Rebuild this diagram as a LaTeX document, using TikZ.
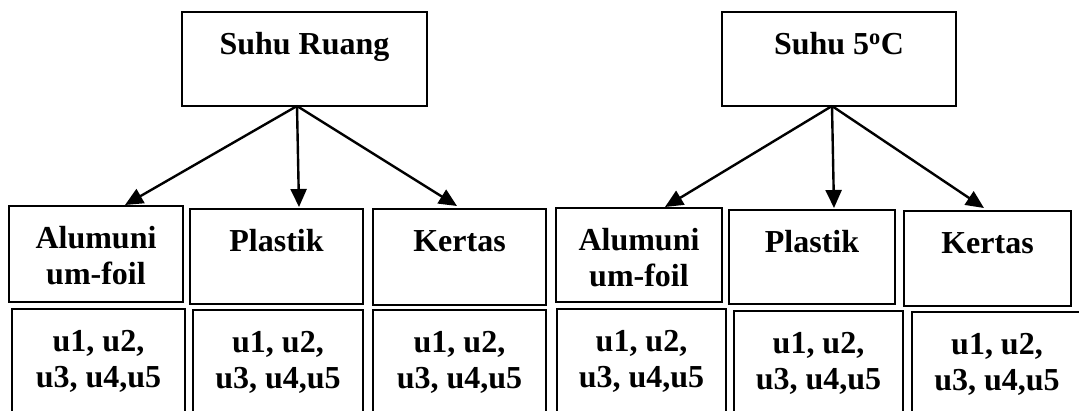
\documentclass[tikz,border=0pt]{standalone}
\usepackage{fontspec}
\setmainfont{Liberation Serif}
\usetikzlibrary{arrows.meta}
\newcommand{\cellbox}[3]{\parbox[t][#2pt][t]{#1pt}{\centering\rule{0pt}{42pt}#3\par}}
\begin{document}
\begin{tikzpicture}[x=1pt,y=-1pt,
  box/.style={draw, line width=2pt, inner sep=0pt, outer sep=0pt, anchor=north west,
    font=\bfseries\fontsize{32}{36.5}\selectfont},
  arr/.style={line width=2.4pt, -{Triangle[length=18pt,width=16pt]}}]
\useasboundingbox (0,0) rectangle (1079,410);
\clip (0,0) rectangle (1079,410);
% top boxes
\node[box] (t1) at (182,12) {\cellbox{245}{94}{Suhu Ruang}};
\node[box] (t2) at (722,12) {\cellbox{234}{94}{Suhu 5\textsuperscript{o}C}};
% material boxes
\node[box] (a1) at (9,206)   {\cellbox{174}{96}{Alumuni\\um-foil}};
\node[box] (p1) at (190,209) {\cellbox{173}{95}{Plastik}};
\node[box] (k1) at (373,209) {\cellbox{173}{96}{Kertas}};
\node[box] (a2) at (556,208) {\cellbox{166}{94}{Alumuni\\um-foil}};
\node[box] (p2) at (729,210) {\cellbox{166}{94}{Plastik}};
\node[box] (k2) at (904,211) {\cellbox{167}{95}{Kertas}};
% unit boxes
\node[box] (u1) at (12,309)  {\cellbox{173}{130}{u1, u2,\\u3, u4,u5}};
\node[box] (u2) at (193,310) {\cellbox{170}{130}{u1, u2,\\u3, u4,u5}};
\node[box] (u3) at (373,310) {\cellbox{173}{130}{u1, u2,\\u3, u4,u5}};
\node[box] (u4) at (557,309) {\cellbox{169}{130}{u1, u2,\\u3, u4,u5}};
\node[box] (u5) at (734,311) {\cellbox{169}{130}{u1, u2,\\u3, u4,u5}};
\node[box] (u6) at (912,312) {\cellbox{170}{130}{u1, u2,\\u3, u4,u5}};
% arrows
\draw[arr] ([xshift=-7.5pt]t1.south) -- ([xshift=29pt,yshift=1pt]a1.north);
\draw[arr] ([xshift=-7.5pt]t1.south) -- ([xshift=22.5pt,yshift=2pt]p1.north);
\draw[arr] ([xshift=-7.5pt]t1.south) -- ([xshift=-2.5pt,yshift=3pt]k1.north);
\draw[arr] ([xshift=-7pt]t2.south) -- ([xshift=26pt,yshift=1pt]a2.north);
\draw[arr] ([xshift=-7pt]t2.south) -- ([xshift=22pt,yshift=2pt]p2.north);
\draw[arr] ([xshift=-7pt]t2.south) -- ([xshift=-3.5pt,yshift=3pt]k2.north);
\end{tikzpicture}
\end{document}
